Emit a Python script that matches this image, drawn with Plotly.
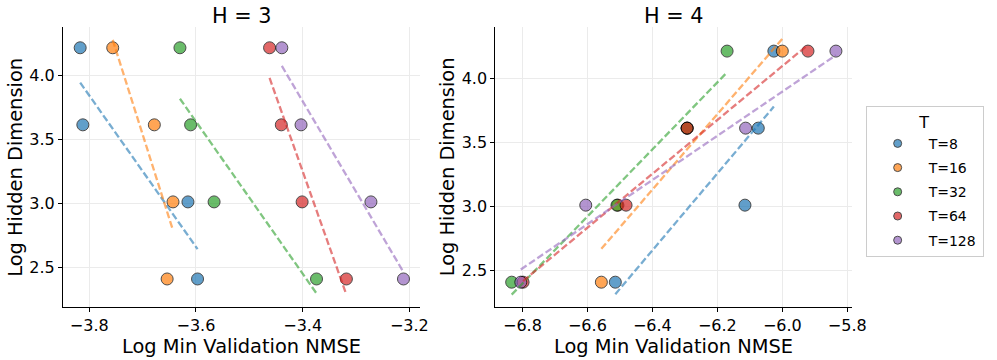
import numpy as np
import plotly.graph_objs as go
from plotly.subplots import make_subplots

# log10 of the hidden dimension (256, 1024, 4096, 16384)
log_hidden = [4.214, 3.612, 3.010, 2.408]

t_labels = ["T=8", "T=16", "T=32", "T=64", "T=128"]

# H = 3 : log min validation NMSE per T (same order as log_hidden)
h3_t8 = [-3.817, -3.812, -3.615, -3.597]
h3_t16 = [-3.756, -3.678, -3.643, -3.654]
h3_t32 = [-3.630, -3.610, -3.566, -3.374]
h3_t64 = [-3.462, -3.440, -3.401, -3.318]
h3_t128 = [-3.439, -3.403, -3.272, -3.211]

# H = 4
h4_t8 = [-6.026, -6.074, -6.115, -6.514]
h4_t16 = [-6.000, -6.293, -6.506, -6.557]
h4_t32 = [-6.170, -6.293, -6.509, -6.833]
h4_t64 = [-5.921, -6.293, -6.481, -6.798]
h4_t128 = [-5.835, -6.113, -6.605, -6.805]

h3_ticks = [-3.8, -3.6, -3.4, -3.2]
h4_ticks = [-6.8, -6.6, -6.4, -6.2, -6.0, -5.8]
y_ticks = [2.5, 3.0, 3.5, 4.0]

colors = ["#1f77b4", "#ff7f0e", "#2ca02c", "#d62728", "#9467bd"]
FONT = "DejaVu Sans"
W, H = 997, 360


def px(v):
    return v / W


def py(v):
    return 1 - v / H


panels = [[h3_t8, h3_t16, h3_t32, h3_t64, h3_t128],
          [h4_t8, h4_t16, h4_t32, h4_t64, h4_t128]]

fig = make_subplots(rows=1, cols=2)

# scatter points first, regression lines on top (like matplotlib zorder)
for col, series in enumerate(panels, start=1):
    for i, xs in enumerate(series):
        fig.add_trace(go.Scatter(
            x=xs, y=log_hidden, mode="markers", showlegend=False,
            legendgroup=t_labels[i], name=t_labels[i],
            marker=dict(size=12, color=colors[i], opacity=0.7,
                        line=dict(color="black", width=1))), row=1, col=col)
    for i, xs in enumerate(series):
        slope, icpt = np.polyfit(xs, log_hidden, 1)
        lx = np.array([min(xs), max(xs)])
        fig.add_trace(go.Scatter(
            x=lx, y=slope * lx + icpt, mode="lines", showlegend=False,
            opacity=0.6, line=dict(color=colors[i], width=2.3, dash="7px,3px")),
            row=1, col=col)

# legend entries
for i, lab in enumerate(t_labels):
    fig.add_trace(go.Scatter(
        x=[None], y=[None], mode="markers", name=lab, legendgroup=lab,
        marker=dict(size=8, color=colors[i], opacity=0.7,
                    line=dict(color="black", width=1))), row=1, col=1)

axis_common = dict(showline=True, linecolor="black", linewidth=1.3,
                   ticks="outside", ticklen=4, tickwidth=1.1, tickcolor="black",
                   showgrid=True, gridcolor="#ebebeb", gridwidth=1,
                   zeroline=False, tickformat=".1f",
                   tickfont=dict(family=FONT, size=16, color="black"))

fig.update_xaxes(axis_common)
fig.update_yaxes(axis_common)

fig.update_layout(
    width=W, height=H,
    margin=dict(l=0, r=0, t=0, b=0),
    plot_bgcolor="white", paper_bgcolor="white",
    xaxis=dict(domain=[px(64), px(426)], range=[-3.849, -3.180],
               tickvals=h3_ticks),
    xaxis2=dict(domain=[px(502.5), px(864.3)], range=[-6.883, -5.785],
                tickvals=h4_ticks),
    yaxis=dict(domain=[py(307), py(27.3)], range=[2.189, 4.374],
               tickvals=y_ticks),
    yaxis2=dict(domain=[py(307), py(27.3)], range=[2.214, 4.40],
                tickvals=y_ticks),
    legend=dict(x=px(878), y=py(106), xanchor="left", yanchor="top",
                bordercolor="#cccccc", borderwidth=1, bgcolor="white",
                tracegroupgap=3,
                font=dict(family=FONT, size=14, color="black"),
                title=dict(text="T", side="top center",
                           font=dict(family=FONT, size=16, color="black")),
                itemwidth=52),
    font=dict(family=FONT, color="black"),
)

ann = []
for cx, title in [(245, "H = 3"), (683.5, "H = 4")]:
    ann.append(dict(x=px(cx), y=py(16), xref="paper", yref="paper",
                    text=title, showarrow=False, xanchor="center", yanchor="middle",
                    font=dict(family=FONT, size=20.8, color="black")))
    ann.append(dict(x=px(cx), y=py(345.5), xref="paper", yref="paper",
                    text="Log Min Validation NMSE", showarrow=False,
                    xanchor="center", yanchor="middle", height=22,
                    font=dict(family=FONT, size=19.4, color="black")))
for lx in [15, 453.7]:
    ann.append(dict(x=px(lx), y=py(167), xref="paper", yref="paper",
                    text="Log Hidden Dimension", showarrow=False, textangle=-90,
                    xanchor="center", yanchor="middle",
                    font=dict(family=FONT, size=19.4, color="black")))
fig.update_layout(annotations=ann)

# drop the default 8px body margin so the figure fills the window exactly
fig.write_html("out.html", config={"displayModeBar": False},
               post_script="document.body.style.margin='0px';")
